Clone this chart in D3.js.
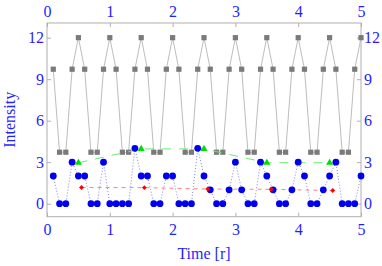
<!DOCTYPE html>
<html><head><meta charset="utf-8">
<script src="https://cdn.jsdelivr.net/npm/d3@7"></script>
<style>
html,body{margin:0;padding:0;background:#fff;}
svg{display:block;}
svg text{font-family:"Liberation Serif","Times New Roman",Times,serif !important;}
</style></head>
<body>
<svg id="c" width="382" height="266"></svg>
<script>
// ---- data ----
const times = d3.range(1, 51).map(i => +(i * 0.1).toFixed(1));
const grayValues = [
  9.72,3.72,3.72,9.72,12, 9.72,3.72,3.72,9.72,12,
  9.72,3.72,3.72,9.72,12, 9.72,3.72,3.72,9.72,12,
  9.72,3.72,3.72,9.72,12, 9.72,3.72,3.72,9.72,12,
  9.72,3.72,3.72,9.72,12, 9.72,3.72,3.72,9.72,12,
  9.72,3.72,3.72,9.72,12, 9.72,3.72,3.72,9.72,12
];
const blueValues = [
  2,0,0,3,2, 2,0,0,3,0,
  0,0,0,4,2, 2,0,0,2,2,
  0,0,0,4,2, 1,0,0,1,3,
  1,0,0,3,2, 1,0,0,1,3,
  2,0,0,1,2, 3,0,0,0,2
];
const greenTimes = [0.5, 1.5, 2.5, 3.5, 4.5];
const greenValues = [2.96, 3.96, 3.96, 2.96, 2.96];
const redTimes = [0.55, 1.55, 2.56, 3.57, 4.55];
const redValues = [1.17, 1.16, 1.06, 1.04, 0.95];
const xTicks = [0, 1, 2, 3, 4, 5];
const yTicks = [0, 3, 6, 9, 12];
const xLabel = "Time [r]";
const yLabel = "Intensity";

// ---- layout ----
const L = 47, R = 361, T = 23, B = 216.7;
const x = d3.scaleLinear().domain([0, 5]).range([L, R]);
const y = d3.scaleLinear().domain([-0.94, 13.06]).range([B, T]);
const svg = d3.select("#c");
const txtCol = "#1f1fff";
const fs = "16px";
const fmt = d3.format("d");

// frame
svg.append("rect").attr("x", L).attr("y", T).attr("width", R - L).attr("height", B - T)
  .attr("fill", "none").attr("stroke", "#b0b0b0").attr("stroke-width", 1);

function styleAxis(g) {
  g.select(".domain").remove();
  g.selectAll(".tick line").attr("stroke", "#b0b0b0");
  g.selectAll(".tick text").attr("fill", txtCol).style("font-size", fs);
}
svg.append("g").attr("transform", `translate(${L},0)`)
  .call(d3.axisLeft(y).tickValues(yTicks).tickFormat(fmt).tickSize(-4).tickPadding(3)).call(styleAxis);
svg.append("g").attr("transform", `translate(${R},0)`)
  .call(d3.axisRight(y).tickValues(yTicks).tickFormat(fmt).tickSize(-4).tickPadding(3)).call(styleAxis);
svg.append("g").attr("transform", `translate(0,${B})`)
  .call(d3.axisBottom(x).tickValues(xTicks).tickFormat(fmt).tickSize(-4).tickPadding(7)).call(styleAxis);
svg.append("g").attr("transform", `translate(0,${T})`)
  .call(d3.axisTop(x).tickValues(xTicks).tickFormat(fmt).tickSize(-4).tickPadding(6)).call(styleAxis);

// labels
svg.append("text").attr("x", (L + R) / 2).attr("y", 259).attr("text-anchor", "middle")
  .attr("fill", txtCol).style("font-size", fs).text(xLabel);
svg.append("text").attr("transform", `translate(15,${(T + B) / 2}) rotate(-90)`)
  .attr("text-anchor", "middle").attr("fill", txtCol).style("font-size", fs).text(yLabel);

const line = d3.line().x(d => x(d[0])).y(d => y(d[1]));

// gray series
const gray = times.map((t, i) => [t, grayValues[i]]);
svg.append("path").datum(gray).attr("d", line).attr("fill", "none")
  .attr("stroke", "#bdbdbd").attr("stroke-width", 1);
svg.selectAll(".gsq").data(gray).enter().append("rect")
  .attr("x", d => x(d[0]) - 2.6).attr("y", d => y(d[1]) - 2.6)
  .attr("width", 5.2).attr("height", 5.2).attr("fill", "#7a7a7a");

// blue series
const blue = times.map((t, i) => [t, blueValues[i]]);
svg.append("path").datum(blue).attr("d", line).attr("fill", "none")
  .attr("stroke", "#7f7fff").attr("stroke-width", 1).attr("stroke-dasharray", "1,2");

// green series
const green = greenTimes.map((t, i) => [t, greenValues[i]]);
svg.append("path").datum(green).attr("d", line).attr("fill", "none")
  .attr("stroke", "#66ee66").attr("stroke-width", 1).attr("stroke-dasharray", "9,8");

// red series
const red = redTimes.map((t, i) => [t, redValues[i]]);
svg.append("path").datum(red).attr("d", line).attr("fill", "none")
  .attr("stroke", "#ff8080").attr("stroke-width", 1).attr("stroke-dasharray", "4,4");

svg.selectAll(".bc").data(blue).enter().append("circle")
  .attr("cx", d => x(d[0])).attr("cy", d => y(d[1])).attr("r", 3.4).attr("fill", "#0000ee");

const tri = d3.symbol().type(d3.symbolTriangle).size(22);
svg.selectAll(".gt").data(green).enter().append("path")
  .attr("d", tri).attr("transform", d => `translate(${x(d[0])},${y(d[1])})`).attr("fill", "#00dd00");

const dia = d3.symbol().type(d3.symbolSquare).size(12);
svg.selectAll(".rd").data(red).enter().append("path")
  .attr("d", dia).attr("transform", d => `translate(${x(d[0])},${y(d[1])}) rotate(45)`).attr("fill", "#ff0000");
</script>
</body></html>
